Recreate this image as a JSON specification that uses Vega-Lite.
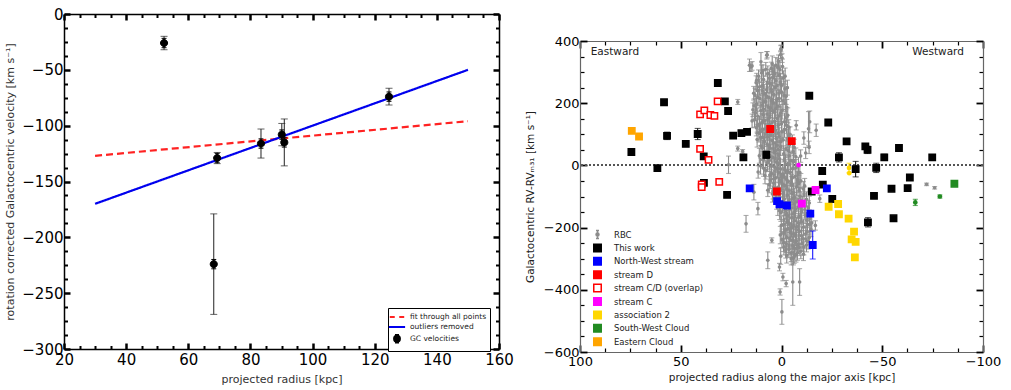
{
"$schema":"https://vega.github.io/schema/vega-lite/v6.json",
"padding":{"left":4,"top":7,"right":0,"bottom":0},
"spacing":11,
"config":{"view":{"stroke":null},"font":"DejaVu Sans"},
"resolve":{"scale":{"fill":"independent","stroke":"independent","shape":"independent","color":"independent","strokeDash":"independent"}},
"datasets":{
"gc":[
{"r":52.2,"v":-26,"e":6,"s":"GC velocities"},
{"r":69.3,"v":-129,"e":5,"s":"GC velocities"},
{"r":68.2,"v":-224,"e":45,"s":"GC velocities"},
{"r":83.4,"v":-116,"e":13,"s":"GC velocities"},
{"r":90.1,"v":-108,"e":10,"s":"GC velocities"},
{"r":90.9,"v":-115,"e":21,"s":"GC velocities"},
{"r":124.6,"v":-74,"e":7.5,"s":"GC velocities"}
],
"fits":[
{"r":30,"v":-127,"fit":"fit through all points"},
{"r":150,"v":-96,"fit":"fit through all points"},
{"r":30,"v":-170,"fit":"outliers removed"},
{"r":150,"v":-50,"fit":"outliers removed"}
],
"labels":[
{"x":94.7,"v":365,"t":"Eastward"},
{"x":-64.9,"v":365,"t":"Westward"}
],
"rv":[
{"x":0.2,"v":372,"e":15,"g":"RBC"},{"x":0.5,"v":356,"e":12,"g":"RBC"},{"x":-0.3,"v":345,"e":14,"g":"RBC"},{"x":7.3,"v":354,"e":12,"g":"RBC"},{"x":1.5,"v":335,"e":20,"g":"RBC"},{"x":7.1,"v":356,"e":10,"g":"RBC"},{"x":0.3,"v":375,"e":10,"g":"RBC"},{"x":10.2,"v":333,"e":30,"g":"RBC"},{"x":15.9,"v":322,"e":20,"g":"RBC"},{"x":15.2,"v":316,"e":14,"g":"RBC"},{"x":14.6,"v":320,"e":14,"g":"RBC"},
{"x":2.8,"v":322,"e":25,"g":"RBC"},{"x":5.1,"v":312,"e":20,"g":"RBC"},{"x":0.8,"v":308,"e":30,"g":"RBC"},{"x":9.2,"v":305,"e":18,"g":"RBC"},{"x":3.9,"v":300,"e":22,"g":"RBC"},{"x":-0.5,"v":318,"e":24,"g":"RBC"},
{"x":6.8,"v":295,"e":25,"g":"RBC"},{"x":1.2,"v":290,"e":30,"g":"RBC"},{"x":11.4,"v":287,"e":20,"g":"RBC"},{"x":4.4,"v":283,"e":28,"g":"RBC"},{"x":-0.9,"v":280,"e":24,"g":"RBC"},{"x":8.9,"v":276,"e":30,"g":"RBC"},{"x":2.7,"v":272,"e":26,"g":"RBC"},
{"x":12.6,"v":266,"e":22,"g":"RBC"},{"x":5.7,"v":262,"e":30,"g":"RBC"},{"x":0.1,"v":258,"e":28,"g":"RBC"},{"x":9.8,"v":255,"e":26,"g":"RBC"},{"x":3.2,"v":250,"e":30,"g":"RBC"},{"x":-1.7,"v":246,"e":25,"g":"RBC"},{"x":7.4,"v":243,"e":28,"g":"RBC"},{"x":11.9,"v":240,"e":24,"g":"RBC"},
{"x":4.8,"v":237,"e":30,"g":"RBC"},{"x":1.3,"v":233,"e":28,"g":"RBC"},{"x":8.6,"v":230,"e":30,"g":"RBC"},{"x":13.1,"v":226,"e":22,"g":"RBC"},{"x":-2.3,"v":222,"e":26,"g":"RBC"},{"x":6.2,"v":219,"e":30,"g":"RBC"},{"x":10.7,"v":215,"e":28,"g":"RBC"},{"x":2.5,"v":212,"e":30,"g":"RBC"},
{"x":-0.8,"v":208,"e":28,"g":"RBC"},{"x":7.9,"v":205,"e":30,"g":"RBC"},{"x":4.1,"v":201,"e":26,"g":"RBC"},{"x":12.4,"v":198,"e":24,"g":"RBC"},{"x":9.6,"v":194,"e":30,"g":"RBC"},{"x":1.9,"v":190,"e":28,"g":"RBC"},{"x":-2.6,"v":187,"e":25,"g":"RBC"},{"x":5.5,"v":184,"e":30,"g":"RBC"},
{"x":14.2,"v":179,"e":22,"g":"RBC"},{"x":10.3,"v":176,"e":28,"g":"RBC"},{"x":3.4,"v":172,"e":30,"g":"RBC"},{"x":0.4,"v":168,"e":28,"g":"RBC"},{"x":7.2,"v":165,"e":30,"g":"RBC"},{"x":-3.1,"v":161,"e":24,"g":"RBC"},{"x":11.8,"v":158,"e":26,"g":"RBC"},{"x":5.9,"v":154,"e":30,"g":"RBC"},{"x":2.1,"v":151,"e":28,"g":"RBC"},
{"x":13.4,"v":147,"e":24,"g":"RBC"},{"x":8.3,"v":144,"e":30,"g":"RBC"},{"x":-1.5,"v":140,"e":28,"g":"RBC"},{"x":4.7,"v":137,"e":30,"g":"RBC"},{"x":10.9,"v":133,"e":26,"g":"RBC"},{"x":1.6,"v":129,"e":30,"g":"RBC"},{"x":6.8,"v":126,"e":28,"g":"RBC"},{"x":-3.6,"v":123,"e":24,"g":"RBC"},{"x":12.5,"v":121,"e":26,"g":"RBC"},
{"x":9.4,"v":117,"e":30,"g":"RBC"},{"x":3.0,"v":114,"e":28,"g":"RBC"},{"x":-0.2,"v":110,"e":30,"g":"RBC"},{"x":7.6,"v":107,"e":26,"g":"RBC"},{"x":11.2,"v":103,"e":28,"g":"RBC"},{"x":-4.2,"v":100,"e":24,"g":"RBC"},{"x":5.3,"v":97,"e":30,"g":"RBC"},{"x":1.1,"v":93,"e":28,"g":"RBC"},
{"x":8.8,"v":89,"e":28,"g":"RBC"},{"x":-2.8,"v":86,"e":30,"g":"RBC"},{"x":12.1,"v":83,"e":24,"g":"RBC"},{"x":4.6,"v":80,"e":30,"g":"RBC"},{"x":0.3,"v":76,"e":28,"g":"RBC"},{"x":-5.4,"v":72,"e":26,"g":"RBC"},{"x":7.1,"v":69,"e":30,"g":"RBC"},{"x":2.2,"v":65,"e":28,"g":"RBC"},{"x":10.2,"v":62,"e":26,"g":"RBC"},
{"x":-6.3,"v":58,"e":26,"g":"RBC"},{"x":5.8,"v":55,"e":30,"g":"RBC"},{"x":1.7,"v":51,"e":28,"g":"RBC"},{"x":-3.3,"v":48,"e":30,"g":"RBC"},{"x":8.5,"v":44,"e":28,"g":"RBC"},{"x":3.6,"v":41,"e":30,"g":"RBC"},{"x":-1.1,"v":37,"e":26,"g":"RBC"},{"x":6.4,"v":34,"e":28,"g":"RBC"},{"x":11.0,"v":31,"e":24,"g":"RBC"},
{"x":-7.1,"v":28,"e":28,"g":"RBC"},{"x":4.2,"v":25,"e":30,"g":"RBC"},{"x":0.9,"v":21,"e":30,"g":"RBC"},{"x":9.3,"v":18,"e":26,"g":"RBC"},{"x":-4.6,"v":15,"e":28,"g":"RBC"},{"x":2.6,"v":11,"e":30,"g":"RBC"},{"x":6.9,"v":8,"e":28,"g":"RBC"},{"x":-2.0,"v":4,"e":30,"g":"RBC"},{"x":-8.4,"v":2,"e":24,"g":"RBC"},
{"x":10.4,"v":-2,"e":26,"g":"RBC"},{"x":3.4,"v":-5,"e":30,"g":"RBC"},{"x":-5.6,"v":-9,"e":28,"g":"RBC"},{"x":0.5,"v":-12,"e":30,"g":"RBC"},{"x":7.8,"v":-16,"e":28,"g":"RBC"},{"x":-3.0,"v":-19,"e":30,"g":"RBC"},{"x":-9.1,"v":-23,"e":24,"g":"RBC"},{"x":4.9,"v":-26,"e":28,"g":"RBC"},{"x":-0.6,"v":-29,"e":30,"g":"RBC"},
{"x":8.2,"v":-33,"e":26,"g":"RBC"},{"x":-6.8,"v":-36,"e":28,"g":"RBC"},{"x":2.9,"v":-40,"e":30,"g":"RBC"},{"x":-2.4,"v":-43,"e":30,"g":"RBC"},{"x":5.6,"v":-47,"e":28,"g":"RBC"},{"x":-9.6,"v":-50,"e":24,"g":"RBC"},{"x":0.0,"v":-54,"e":30,"g":"RBC"},{"x":-4.9,"v":-57,"e":28,"g":"RBC"},
{"x":6.1,"v":-62,"e":26,"g":"RBC"},{"x":-1.7,"v":-66,"e":30,"g":"RBC"},{"x":-7.5,"v":-69,"e":28,"g":"RBC"},{"x":3.1,"v":-73,"e":30,"g":"RBC"},{"x":-10.8,"v":-76,"e":24,"g":"RBC"},{"x":-3.8,"v":-80,"e":30,"g":"RBC"},{"x":1.2,"v":-84,"e":28,"g":"RBC"},{"x":-6.0,"v":-87,"e":30,"g":"RBC"},
{"x":4.5,"v":-92,"e":26,"g":"RBC"},{"x":-2.9,"v":-95,"e":30,"g":"RBC"},{"x":-9.2,"v":-99,"e":28,"g":"RBC"},{"x":0.7,"v":-102,"e":30,"g":"RBC"},{"x":-5.3,"v":-106,"e":30,"g":"RBC"},{"x":-12.4,"v":-109,"e":24,"g":"RBC"},{"x":2.4,"v":-113,"e":28,"g":"RBC"},{"x":-7.7,"v":-117,"e":30,"g":"RBC"},
{"x":-0.5,"v":-122,"e":30,"g":"RBC"},{"x":-10.5,"v":-126,"e":26,"g":"RBC"},{"x":-4.0,"v":-129,"e":30,"g":"RBC"},{"x":1.8,"v":-133,"e":28,"g":"RBC"},{"x":-13.3,"v":-137,"e":24,"g":"RBC"},{"x":-7.0,"v":-140,"e":30,"g":"RBC"},{"x":-2.1,"v":-144,"e":28,"g":"RBC"},{"x":-9.9,"v":-148,"e":30,"g":"RBC"},
{"x":0.3,"v":-152,"e":28,"g":"RBC"},{"x":-5.8,"v":-156,"e":30,"g":"RBC"},{"x":-11.7,"v":-160,"e":26,"g":"RBC"},{"x":-3.3,"v":-163,"e":30,"g":"RBC"},{"x":-8.6,"v":-167,"e":28,"g":"RBC"},{"x":-14.1,"v":-171,"e":24,"g":"RBC"},{"x":-1.2,"v":-175,"e":30,"g":"RBC"},{"x":-6.6,"v":-178,"e":30,"g":"RBC"},
{"x":-10.1,"v":-182,"e":28,"g":"RBC"},{"x":-3.9,"v":-186,"e":30,"g":"RBC"},{"x":-12.9,"v":-190,"e":26,"g":"RBC"},{"x":0.1,"v":-193,"e":28,"g":"RBC"},{"x":-7.5,"v":-197,"e":30,"g":"RBC"},{"x":-5.0,"v":-201,"e":30,"g":"RBC"},{"x":-14.6,"v":-205,"e":24,"g":"RBC"},{"x":-1.9,"v":-208,"e":28,"g":"RBC"},
{"x":-9.0,"v":-212,"e":30,"g":"RBC"},{"x":-4.4,"v":-216,"e":28,"g":"RBC"},{"x":-12.0,"v":-220,"e":26,"g":"RBC"},{"x":0.6,"v":-224,"e":28,"g":"RBC"},{"x":-6.9,"v":-228,"e":30,"g":"RBC"},{"x":-2.6,"v":-232,"e":30,"g":"RBC"},{"x":-10.8,"v":-236,"e":26,"g":"RBC"},
{"x":-5.3,"v":-241,"e":28,"g":"RBC"},{"x":-13.2,"v":-245,"e":24,"g":"RBC"},{"x":-1.0,"v":-249,"e":28,"g":"RBC"},{"x":-8.3,"v":-253,"e":30,"g":"RBC"},{"x":-3.7,"v":-258,"e":28,"g":"RBC"},{"x":-11.1,"v":-262,"e":26,"g":"RBC"},{"x":-6.4,"v":-266,"e":28,"g":"RBC"},
{"x":-2.1,"v":-272,"e":26,"g":"RBC"},{"x":-9.6,"v":-276,"e":24,"g":"RBC"},{"x":-4.8,"v":-281,"e":28,"g":"RBC"},{"x":-7.2,"v":-287,"e":24,"g":"RBC"},{"x":0.4,"v":-292,"e":26,"g":"RBC"},{"x":-5.9,"v":-298,"e":22,"g":"RBC"},
{"x":4.6,"v":327,"e":25,"g":"RBC"},{"x":1.9,"v":315,"e":28,"g":"RBC"},{"x":7.8,"v":309,"e":22,"g":"RBC"},
{"x":9.9,"v":297,"e":26,"g":"RBC"},{"x":3.5,"v":293,"e":30,"g":"RBC"},{"x":-1.8,"v":287,"e":26,"g":"RBC"},{"x":6.0,"v":280,"e":28,"g":"RBC"},{"x":12.3,"v":274,"e":22,"g":"RBC"},{"x":0.6,"v":268,"e":28,"g":"RBC"},
{"x":7.0,"v":264,"e":30,"g":"RBC"},{"x":2.2,"v":256,"e":30,"g":"RBC"},{"x":11.0,"v":252,"e":26,"g":"RBC"},{"x":-2.9,"v":250,"e":24,"g":"RBC"},{"x":5.1,"v":245,"e":30,"g":"RBC"},{"x":9.3,"v":239,"e":28,"g":"RBC"},{"x":0.0,"v":235,"e":28,"g":"RBC"},{"x":13.8,"v":232,"e":22,"g":"RBC"},{"x":3.9,"v":228,"e":30,"g":"RBC"},{"x":-1.3,"v":225,"e":28,"g":"RBC"},
{"x":7.3,"v":222,"e":30,"g":"RBC"},{"x":11.6,"v":218,"e":26,"g":"RBC"},{"x":1.1,"v":215,"e":28,"g":"RBC"},{"x":4.9,"v":209,"e":30,"g":"RBC"},{"x":9.1,"v":203,"e":28,"g":"RBC"},{"x":-1.9,"v":199,"e":26,"g":"RBC"},{"x":13.6,"v":192,"e":22,"g":"RBC"},{"x":6.6,"v":188,"e":30,"g":"RBC"},{"x":2.9,"v":182,"e":30,"g":"RBC"},
{"x":8.9,"v":181,"e":28,"g":"RBC"},{"x":-0.3,"v":177,"e":28,"g":"RBC"},{"x":4.4,"v":174,"e":30,"g":"RBC"},{"x":12.9,"v":168,"e":24,"g":"RBC"},{"x":9.0,"v":162,"e":28,"g":"RBC"},{"x":1.2,"v":159,"e":30,"g":"RBC"},{"x":-2.2,"v":153,"e":26,"g":"RBC"},{"x":6.7,"v":148,"e":30,"g":"RBC"},{"x":14.6,"v":143,"e":22,"g":"RBC"},{"x":3.3,"v":141,"e":30,"g":"RBC"},
{"x":9.7,"v":139,"e":28,"g":"RBC"},{"x":0.0,"v":134,"e":28,"g":"RBC"},{"x":5.8,"v":131,"e":30,"g":"RBC"},{"x":-2.5,"v":129,"e":26,"g":"RBC"},{"x":12.0,"v":127,"e":24,"g":"RBC"},{"x":3.6,"v":122,"e":30,"g":"RBC"},{"x":8.1,"v":117,"e":28,"g":"RBC"},{"x":-1.5,"v":116,"e":26,"g":"RBC"},{"x":6.1,"v":111,"e":30,"g":"RBC"},{"x":10.5,"v":108,"e":26,"g":"RBC"},{"x":1.7,"v":104,"e":30,"g":"RBC"},
{"x":-3.5,"v":95,"e":28,"g":"RBC"},{"x":6.8,"v":92,"e":30,"g":"RBC"},{"x":10.3,"v":90,"e":26,"g":"RBC"},{"x":2.6,"v":86,"e":30,"g":"RBC"},{"x":-0.8,"v":82,"e":28,"g":"RBC"},{"x":8.4,"v":77,"e":28,"g":"RBC"},{"x":4.0,"v":72,"e":30,"g":"RBC"},{"x":-4.0,"v":66,"e":26,"g":"RBC"},{"x":5.9,"v":63,"e":30,"g":"RBC"},
{"x":0.4,"v":60,"e":28,"g":"RBC"},{"x":9.5,"v":56,"e":26,"g":"RBC"},{"x":-2.2,"v":53,"e":28,"g":"RBC"},{"x":3.0,"v":47,"e":30,"g":"RBC"},{"x":-5.8,"v":44,"e":26,"g":"RBC"},{"x":7.2,"v":39,"e":28,"g":"RBC"},{"x":1.2,"v":33,"e":30,"g":"RBC"},{"x":-3.8,"v":31,"e":28,"g":"RBC"},{"x":4.8,"v":27,"e":30,"g":"RBC"},
{"x":-1.4,"v":19,"e":30,"g":"RBC"},{"x":6.0,"v":16,"e":28,"g":"RBC"},{"x":-6.0,"v":12,"e":26,"g":"RBC"},{"x":1.9,"v":8,"e":30,"g":"RBC"},{"x":-3.6,"v":2,"e":28,"g":"RBC"},{"x":5.0,"v":-3,"e":30,"g":"RBC"},{"x":-7.2,"v":-7,"e":26,"g":"RBC"},{"x":2.0,"v":-10,"e":30,"g":"RBC"},{"x":-1.6,"v":-14,"e":28,"g":"RBC"},{"x":8.9,"v":-9,"e":26,"g":"RBC"},
{"x":-4.4,"v":-22,"e":30,"g":"RBC"},{"x":1.6,"v":-24,"e":30,"g":"RBC"},{"x":-8.2,"v":-28,"e":26,"g":"RBC"},{"x":5.8,"v":-31,"e":28,"g":"RBC"},{"x":-1.2,"v":-36,"e":30,"g":"RBC"},{"x":-5.4,"v":-40,"e":28,"g":"RBC"},{"x":3.9,"v":-44,"e":30,"g":"RBC"},{"x":-7.9,"v":-46,"e":26,"g":"RBC"},{"x":0.9,"v":-48,"e":30,"g":"RBC"},{"x":-3.1,"v":-53,"e":28,"g":"RBC"},
{"x":-8.6,"v":-58,"e":26,"g":"RBC"},{"x":3.8,"v":-57,"e":28,"g":"RBC"},{"x":-0.4,"v":-61,"e":30,"g":"RBC"},{"x":-5.0,"v":-64,"e":28,"g":"RBC"},{"x":-11.5,"v":-66,"e":24,"g":"RBC"},{"x":1.5,"v":-70,"e":30,"g":"RBC"},{"x":-2.6,"v":-76,"e":30,"g":"RBC"},{"x":-8.7,"v":-80,"e":28,"g":"RBC"},{"x":4.2,"v":-82,"e":26,"g":"RBC"},{"x":-5.1,"v":-90,"e":30,"g":"RBC"},{"x":-0.9,"v":-89,"e":28,"g":"RBC"},
{"x":-11.2,"v":-95,"e":26,"g":"RBC"},{"x":2.8,"v":-97,"e":28,"g":"RBC"},{"x":-6.6,"v":-103,"e":30,"g":"RBC"},{"x":-1.4,"v":-108,"e":30,"g":"RBC"},{"x":-9.7,"v":-113,"e":28,"g":"RBC"},{"x":-3.7,"v":-115,"e":30,"g":"RBC"},{"x":0.9,"v":-119,"e":28,"g":"RBC"},{"x":-13.8,"v":-121,"e":22,"g":"RBC"},{"x":-6.3,"v":-124,"e":30,"g":"RBC"},{"x":-1.6,"v":-130,"e":30,"g":"RBC"},{"x":-8.4,"v":-134,"e":28,"g":"RBC"},
{"x":-4.8,"v":-138,"e":30,"g":"RBC"},{"x":-11.6,"v":-143,"e":26,"g":"RBC"},{"x":0.9,"v":-146,"e":28,"g":"RBC"},{"x":-6.5,"v":-150,"e":30,"g":"RBC"},{"x":-13.0,"v":-154,"e":24,"g":"RBC"},{"x":-2.5,"v":-158,"e":30,"g":"RBC"},{"x":-9.5,"v":-161,"e":28,"g":"RBC"},{"x":-5.1,"v":-168,"e":30,"g":"RBC"},{"x":-12.6,"v":-176,"e":24,"g":"RBC"},{"x":-2.9,"v":-180,"e":30,"g":"RBC"},
{"x":-8.3,"v":-185,"e":30,"g":"RBC"},{"x":-14.0,"v":-189,"e":24,"g":"RBC"},{"x":-1.1,"v":-189,"e":28,"g":"RBC"},{"x":-5.9,"v":-194,"e":30,"g":"RBC"},{"x":-10.9,"v":-199,"e":26,"g":"RBC"},{"x":-3.2,"v":-203,"e":30,"g":"RBC"},{"x":-8.4,"v":-207,"e":28,"g":"RBC"},{"x":-12.6,"v":-213,"e":26,"g":"RBC"},{"x":-1.2,"v":-217,"e":28,"g":"RBC"},{"x":-6.0,"v":-220,"e":30,"g":"RBC"},
{"x":-9.9,"v":-226,"e":28,"g":"RBC"},{"x":-4.1,"v":-236,"e":30,"g":"RBC"},{"x":-13.8,"v":-232,"e":22,"g":"RBC"},{"x":-0.2,"v":-238,"e":26,"g":"RBC"},{"x":-7.4,"v":-244,"e":28,"g":"RBC"},{"x":-2.4,"v":-252,"e":28,"g":"RBC"},{"x":-10.2,"v":-250,"e":26,"g":"RBC"},{"x":-5.6,"v":-258,"e":30,"g":"RBC"},{"x":-12.4,"v":-256,"e":22,"g":"RBC"},{"x":-8.8,"v":-264,"e":26,"g":"RBC"},{"x":-1.2,"v":-262,"e":26,"g":"RBC"},{"x":-3.7,"v":-270,"e":26,"g":"RBC"},{"x":-7.9,"v":-281,"e":24,"g":"RBC"},{"x":-10.9,"v":-286,"e":20,"g":"RBC"},{"x":-2.6,"v":-290,"e":24,"g":"RBC"},{"x":-6.3,"v":-293,"e":22,"g":"RBC"},
{"x":21.7,"v":204,"e":8,"g":"RBC"},{"x":21.7,"v":54,"e":8,"g":"RBC"},{"x":19.3,"v":45,"e":6,"g":"RBC"},{"x":26.3,"v":2,"e":28,"g":"RBC"},{"x":-7.3,"v":129,"e":15,"g":"RBC"},{"x":-11.1,"v":88,"e":20,"g":"RBC"},{"x":-13.4,"v":118,"e":55,"g":"RBC"},{"x":-17.2,"v":113,"e":20,"g":"RBC"},{"x":-13.7,"v":58,"e":20,"g":"RBC"},{"x":-14.0,"v":140,"e":35,"g":"RBC"},{"x":-9.5,"v":30,"e":20,"g":"RBC"},{"x":-12.0,"v":40,"e":18,"g":"RBC"},
{"x":17.6,"v":-188,"e":27,"g":"RBC"},{"x":11.7,"v":-139,"e":20,"g":"RBC"},{"x":4.8,"v":-241,"e":8,"g":"RBC"},{"x":6.8,"v":-305,"e":27,"g":"RBC"},{"x":1.0,"v":-327,"e":12,"g":"RBC"},{"x":-0.7,"v":-359,"e":12,"g":"RBC"},{"x":-2.3,"v":-380,"e":10,"g":"RBC"},{"x":0.7,"v":-407,"e":10,"g":"RBC"},{"x":-0.2,"v":-471,"e":40,"g":"RBC"},{"x":-5.6,"v":-375,"e":75,"g":"RBC"},{"x":-9.0,"v":-375,"e":43,"g":"RBC"},
{"x":6.8,"v":-80,"e":20,"g":"RBC"},{"x":13.7,"v":-86,"e":25,"g":"RBC"},{"x":-4.8,"v":-300,"e":20,"g":"RBC"},{"x":-19.0,"v":-107,"e":12,"g":"RBC"},{"x":-15.0,"v":-185,"e":25,"g":"RBC"},{"x":-16.8,"v":-193,"e":15,"g":"RBC"},{"x":11.6,"v":-21,"e":20,"g":"RBC"},{"x":-72.0,"v":-61,"e":4,"g":"RBC"},{"x":-76.0,"v":-72,"e":4,"g":"RBC"},
{"x":31.6,"v":265,"e":0,"g":"This work"},{"x":58.3,"v":203,"e":0,"g":"This work"},{"x":28.1,"v":206,"e":0,"g":"This work"},{"x":26.5,"v":175,"e":0,"g":"This work"},{"x":56.8,"v":95,"e":12,"g":"This work"},{"x":41.6,"v":101,"e":18,"g":"This work"},{"x":47.5,"v":69,"e":0,"g":"This work"},{"x":24.0,"v":96,"e":0,"g":"This work"},{"x":19.9,"v":104,"e":0,"g":"This work"},{"x":17.1,"v":108,"e":0,"g":"This work"},
{"x":74.5,"v":43,"e":0,"g":"This work"},{"x":38.6,"v":29,"e":0,"g":"This work"},{"x":18.9,"v":26,"e":0,"g":"This work"},{"x":7.5,"v":34,"e":12,"g":"This work"},{"x":61.6,"v":-9,"e":0,"g":"This work"},{"x":38.5,"v":-56,"e":0,"g":"This work"},{"x":27.0,"v":-95,"e":0,"g":"This work"},{"x":-13.8,"v":224,"e":0,"g":"This work"},{"x":-23.2,"v":138,"e":0,"g":"This work"},{"x":-32.3,"v":77,"e":0,"g":"This work"},
{"x":-28.5,"v":26,"e":15,"g":"This work"},{"x":-41.6,"v":61,"e":0,"g":"This work"},{"x":-42.7,"v":50,"e":12,"g":"This work"},{"x":-51.0,"v":26,"e":10,"g":"This work"},{"x":-58.3,"v":56,"e":0,"g":"This work"},{"x":-74.8,"v":26,"e":0,"g":"This work"},{"x":-20.2,"v":-18,"e":0,"g":"This work"},{"x":-36.8,"v":-12,"e":25,"g":"This work"},{"x":-47.0,"v":-8,"e":15,"g":"This work"},{"x":-20.5,"v":-62,"e":0,"g":"This work"},
{"x":-15.0,"v":-84,"e":0,"g":"This work"},{"x":-25.2,"v":-108,"e":10,"g":"This work"},{"x":-45.9,"v":-98,"e":0,"g":"This work"},{"x":-54.6,"v":-75,"e":0,"g":"This work"},{"x":-63.7,"v":-39,"e":0,"g":"This work"},{"x":-62.6,"v":-73,"e":0,"g":"This work"},{"x":-42.9,"v":-183,"e":15,"g":"This work"},{"x":-55.6,"v":-170,"e":0,"g":"This work"},
{"x":15.8,"v":-74,"e":0,"g":"North-West stream"},{"x":2.2,"v":-115,"e":0,"g":"North-West stream"},{"x":1.0,"v":-125,"e":0,"g":"North-West stream"},{"x":-2.7,"v":-129,"e":0,"g":"North-West stream"},{"x":-14.3,"v":-155,"e":0,"g":"North-West stream"},{"x":-15.5,"v":-256,"e":45,"g":"North-West stream"},{"x":-22.5,"v":-74,"e":0,"g":"North-West stream"},
{"x":5.6,"v":117,"e":0,"g":"stream D"},{"x":-5.1,"v":78,"e":0,"g":"stream D"},{"x":2.3,"v":-84,"e":0,"g":"stream D"},
{"x":31.7,"v":206,"e":0,"g":"stream C/D (overlap)"},{"x":40.4,"v":164,"e":0,"g":"stream C/D (overlap)"},{"x":38.3,"v":177,"e":0,"g":"stream C/D (overlap)"},{"x":35.3,"v":162,"e":0,"g":"stream C/D (overlap)"},{"x":33.3,"v":159,"e":0,"g":"stream C/D (overlap)"},{"x":40.4,"v":53,"e":0,"g":"stream C/D (overlap)"},{"x":36.2,"v":18,"e":0,"g":"stream C/D (overlap)"},{"x":39.6,"v":-61,"e":0,"g":"stream C/D (overlap)"},{"x":39.6,"v":-70,"e":0,"g":"stream C/D (overlap)"},{"x":30.9,"v":-53,"e":0,"g":"stream C/D (overlap)"},
{"x":-10.1,"v":-123,"e":0,"g":"stream C"},{"x":-16.9,"v":-79,"e":0,"g":"stream C"},{"x":-8.5,"v":1,"e":0,"g":"stream C","k":"dot"},
{"x":-23.4,"v":-133,"e":0,"g":"association 2"},{"x":-28.1,"v":-124,"e":0,"g":"association 2"},{"x":-28.5,"v":-157,"e":0,"g":"association 2"},{"x":-33.3,"v":-171,"e":0,"g":"association 2"},{"x":-36.0,"v":-213,"e":0,"g":"association 2"},{"x":-34.8,"v":-238,"e":0,"g":"association 2"},{"x":-36.8,"v":-246,"e":0,"g":"association 2"},{"x":-36.4,"v":-296,"e":0,"g":"association 2"},{"x":-33.5,"v":-8,"e":15,"g":"association 2","k":"dot"},{"x":-33.6,"v":-25,"e":0,"g":"association 2","k":"dot"},
{"x":-85.8,"v":-59,"e":0,"g":"South-West Cloud"},{"x":-66.4,"v":-119,"e":10,"g":"South-West Cloud","k":"dot"},{"x":-78.6,"v":-100,"e":5,"g":"South-West Cloud","k":"dot"},
{"x":74.3,"v":111,"e":0,"g":"Eastern Cloud"},{"x":70.7,"v":93,"e":0,"g":"Eastern Cloud"}
]
},
"hconcat":[
{
"width":435,"height":335,
"resolve":{"axis":{"x":"independent","y":"independent"}},
"layer":[
{"data":{"name":"fits"},"mark":{"type":"line","strokeWidth":2.2},
"encoding":{
"x":{"field":"r","type":"quantitative","scale":{"domain":[20,160],"nice":false,"zero":false},
"axis":{"orient":"bottom","values":[20,25,30,35,40,45,50,55,60,65,70,75,80,85,90,95,100,105,110,115,120,125,130,135,140,145,150,155,160],"labelExpr":"datum.value % 20 === 0 ? datum.label : ''","tickSize":{"condition":{"test":"datum.value % 20 === 0","value":-6},"value":-3.5},"tickWidth":{"condition":{"test":"datum.value % 20 === 0","value":2.5},"value":2},"tickColor":"black","domainColor":"black","domainWidth":1.5,"labelFontSize":15,"labelColor":"black","labelPadding":9,"labelFlush":false,"labelOverlap":false,"grid":false,"title":"projected radius [kpc]","titleFontSize":11,"titleFontWeight":"normal","titleColor":"#333","titlePadding":4}},
"y":{"field":"v","type":"quantitative","scale":{"domain":[-300,0],"nice":false,"zero":false},
"axis":{"orient":"left","values":[-300,-287.5,-275,-262.5,-250,-237.5,-225,-212.5,-200,-187.5,-175,-162.5,-150,-137.5,-125,-112.5,-100,-87.5,-75,-62.5,-50,-37.5,-25,-12.5,0],"labelExpr":"datum.value % 50 === 0 ? datum.label : ''","tickSize":{"condition":{"test":"datum.value % 50 === 0","value":-6},"value":-3.5},"tickWidth":{"condition":{"test":"datum.value % 50 === 0","value":2.5},"value":2},"tickColor":"black","domainColor":"black","domainWidth":1.5,"labelFontSize":15,"labelColor":"black","labelPadding":7,"labelFlush":false,"labelOverlap":false,"grid":false,"title":"rotation corrected Galactocentric velocity [km s⁻¹]","titleFontSize":11,"titleFontWeight":"normal","titleColor":"#333","titlePadding":6}},
"color":{"field":"fit","type":"nominal","scale":{"domain":["fit through all points","outliers removed"],"range":["#ff2222","#0000ee"]},"legend":null},
"strokeDash":{"field":"fit","type":"nominal","scale":{"domain":["fit through all points","outliers removed"],"range":[[7,4],[1,0]]},"legend":null}
}},
{"data":{"name":"gc"},"mark":{"type":"errorbar","ticks":true,"size":7,"thickness":1,"color":"#222"},
"encoding":{
"x":{"field":"r","type":"quantitative","scale":{"domain":[20,160],"nice":false,"zero":false},"axis":null},
"y":{"field":"v","type":"quantitative","scale":{"domain":[-300,0],"nice":false,"zero":false},"axis":null},
"yError":{"field":"e"}
}},
{"data":{"name":"gc"},"mark":{"type":"point","filled":true,"size":121,"strokeWidth":1,"opacity":1},
"encoding":{
"x":{"field":"r","type":"quantitative","scale":{"domain":[20,160],"nice":false,"zero":false},
"axis":{"orient":"top","values":[20,25,30,35,40,45,50,55,60,65,70,75,80,85,90,95,100,105,110,115,120,125,130,135,140,145,150,155,160],"labels":false,"tickSize":{"condition":{"test":"datum.value % 20 === 0","value":-6},"value":-3.5},"tickWidth":{"condition":{"test":"datum.value % 20 === 0","value":2.5},"value":2},"tickColor":"black","domainColor":"black","domainWidth":1.5,"grid":false,"title":null}},
"y":{"field":"v","type":"quantitative","scale":{"domain":[-300,0],"nice":false,"zero":false},
"axis":{"orient":"right","values":[-300,-287.5,-275,-262.5,-250,-237.5,-225,-212.5,-200,-187.5,-175,-162.5,-150,-137.5,-125,-112.5,-100,-87.5,-75,-62.5,-50,-37.5,-25,-12.5,0],"labels":false,"tickSize":{"condition":{"test":"datum.value % 50 === 0","value":-6},"value":-3.5},"tickWidth":{"condition":{"test":"datum.value % 50 === 0","value":2.5},"value":2},"tickColor":"black","domainColor":"black","domainWidth":1.5,"grid":false,"title":null}},
"fill":{"field":"s","type":"nominal","scale":{"domain":["fit through all points","outliers removed","GC velocities"],"range":["#ff2222","#0000ee","black"]},
"legend":{"orient":"none","legendX":324,"legendY":294,"title":null,"symbolSize":81,"symbolStrokeWidth":2,"labelFontSize":7.5,"labelColor":"#222","strokeColor":"black","fillColor":"white","padding":3.5,"rowPadding":-1.2,"labelOffset":7.5}},
"stroke":{"field":"s","type":"nominal","scale":{"domain":["fit through all points","outliers removed","GC velocities"],"range":["#ff2222","#0000ee","black"]},
"legend":{"orient":"none","legendX":324,"legendY":294,"title":null,"symbolSize":81,"symbolStrokeWidth":2,"labelFontSize":7.5,"labelColor":"#222","strokeColor":"black","fillColor":"white","padding":3.5,"rowPadding":-1.2,"labelOffset":7.5}},
"shape":{"field":"s","type":"nominal","scale":{"domain":["fit through all points","outliers removed","GC velocities"],"range":["M-1.6,0H-0.5M0.5,0H1.6","M-1.8,0H1.8","M-0.65,0A0.65,0.65 0 1,0 0.65,0A0.65,0.65 0 1,0 -0.65,0ZM0,-0.85V0.85M-0.45,-0.85H0.45M-0.45,0.85H0.45"]},
"legend":{"orient":"none","legendX":324,"legendY":294,"title":null,"symbolSize":81,"symbolStrokeWidth":2,"labelFontSize":7.5,"labelColor":"#222","strokeColor":"black","fillColor":"white","padding":3.5,"rowPadding":-1.2,"labelOffset":7.5}}
}}
]
},
{
"spacing":19,
"resolve":{"scale":{"fill":"independent","stroke":"independent","shape":"independent","color":"independent"}},
"vconcat":[
{"width":403,"height":2,"data":{"values":[]},"mark":"point"},
{
"width":403,"height":311,
"data":{"name":"rv"},
"resolve":{"axis":{"x":"independent","y":"independent"}},
"layer":[
{"mark":{"type":"rule","strokeDash":[2,2],"color":"#555","strokeWidth":1},
"encoding":{"y":{"datum":0,"type":"quantitative","scale":{"domain":[-600,400],"nice":false,"zero":false},"axis":null}}},
{"transform":[{"filter":"(datum.g === 'RBC' || datum.k === 'dot') && datum.e > 0"}],
"mark":{"type":"errorbar","ticks":true,"size":5,"thickness":1.1},
"encoding":{
"x":{"field":"x","type":"quantitative","scale":{"domain":[100,-100],"nice":false,"zero":false},"axis":null},
"y":{"field":"v","type":"quantitative","scale":{"domain":[-600,400],"nice":false,"zero":false},"axis":null},
"yError":{"field":"e"},
"color":{"field":"g","type":"nominal","scale":{"domain":["Eastern Cloud","South-West Cloud","association 2","stream C","stream C/D (overlap)","stream D","North-West stream","This work","RBC"],"range":["#ffa500","#228b22","#ffd700","#ff00ff","#ff0000","#ff0000","#0000ff","black","#8c8c8c"]},"legend":null}
}},
{"transform":[{"filter":"datum.g === 'RBC' || datum.k === 'dot'"}],
"mark":{"type":"point","filled":true,"opacity":1,"shape":"circle"},
"encoding":{
"x":{"field":"x","type":"quantitative","scale":{"domain":[100,-100],"nice":false,"zero":false},
"axis":{"orient":"bottom","values":[-100,-87.5,-75,-62.5,-50,-37.5,-25,-12.5,0,12.5,25,37.5,50,62.5,75,87.5,100],"labelExpr":"datum.value % 50 === 0 ? datum.label : ''","tickSize":{"condition":{"test":"datum.value % 50 === 0","value":-7},"value":-4},"tickWidth":{"condition":{"test":"datum.value % 50 === 0","value":1.8},"value":1.2},"tickColor":"black","domainColor":"#666","domainWidth":1.2,"labelFontSize":13,"labelColor":"black","labelPadding":10,"labelFlush":false,"labelOverlap":false,"grid":false,"title":"projected radius along the major axis [kpc]","titleFontSize":10.5,"titleFontWeight":"normal","titleColor":"#222","titlePadding":1}},
"y":{"field":"v","type":"quantitative","scale":{"domain":[-600,400],"nice":false,"zero":false},
"axis":{"orient":"left","values":[-600,-550,-500,-450,-400,-350,-300,-250,-200,-150,-100,-50,0,50,100,150,200,250,300,350,400],"labelExpr":"datum.value % 200 === 0 ? datum.label : ''","tickSize":{"condition":{"test":"datum.value % 200 === 0","value":-7},"value":-4},"tickWidth":{"condition":{"test":"datum.value % 200 === 0","value":1.8},"value":1.2},"tickColor":"black","domainColor":"#666","domainWidth":1.2,"labelFontSize":13,"labelColor":"black","labelPadding":8,"labelFlush":false,"labelOverlap":false,"grid":false,"title":"Galactocentric RV-RVₘ₃₁ [km s⁻¹]","titleFontSize":10.5,"titleFontWeight":"normal","titleColor":"#222","titlePadding":8}},
"fill":{"field":"g","type":"nominal","scale":{"domain":["RBC","This work","North-West stream","stream D","stream C/D (overlap)","stream C","association 2","South-West Cloud","Eastern Cloud"],"range":["#8c8c8c","black","#0000ff","#ff0000","white","#ff00ff","#ffd700","#228b22","#ffa500"]},
"legend":{"orient":"none","legendX":13,"legendY":189,"title":null,"symbolSize":56,"symbolStrokeWidth":1.5,"labelFontSize":8.5,"labelColor":"#222","rowPadding":-1.6,"labelOffset":12,"padding":0}},
"size":{"condition":{"test":"datum.k === 'dot'","value":22},"value":13}
}},
{"transform":[{"filter":"datum.g !== 'RBC' && datum.k !== 'dot' && datum.e > 0"}],
"mark":{"type":"errorbar","ticks":true,"size":6,"thickness":1},
"encoding":{
"x":{"field":"x","type":"quantitative","scale":{"domain":[100,-100],"nice":false,"zero":false},"axis":null},
"y":{"field":"v","type":"quantitative","scale":{"domain":[-600,400],"nice":false,"zero":false},"axis":null},
"yError":{"field":"e"},
"color":{"field":"g","type":"nominal","scale":{"domain":["Eastern Cloud","South-West Cloud","association 2","stream C","stream C/D (overlap)","stream D","North-West stream","This work","RBC"],"range":["#ffa500","#228b22","#ffd700","#ff00ff","#ff0000","#ff0000","#0000ff","black","#8c8c8c"]},"legend":null}
}},
{"transform":[{"filter":"datum.g !== 'RBC' && datum.k !== 'dot'"}],
"mark":{"type":"point","filled":true,"opacity":1,"size":40,"strokeWidth":1.5},
"encoding":{
"x":{"field":"x","type":"quantitative","scale":{"domain":[100,-100],"nice":false,"zero":false},
"axis":{"orient":"top","values":[-100,-87.5,-75,-62.5,-50,-37.5,-25,-12.5,0,12.5,25,37.5,50,62.5,75,87.5,100],"labels":false,"tickSize":{"condition":{"test":"datum.value % 50 === 0","value":-7},"value":-4},"tickWidth":{"condition":{"test":"datum.value % 50 === 0","value":1.8},"value":1.2},"tickColor":"black","domainColor":"#666","domainWidth":1.2,"grid":false,"title":null}},
"y":{"field":"v","type":"quantitative","scale":{"domain":[-600,400],"nice":false,"zero":false},
"axis":{"orient":"right","values":[-600,-550,-500,-450,-400,-350,-300,-250,-200,-150,-100,-50,0,50,100,150,200,250,300,350,400],"labels":false,"tickSize":{"condition":{"test":"datum.value % 200 === 0","value":-7},"value":-4},"tickWidth":{"condition":{"test":"datum.value % 200 === 0","value":1.8},"value":1.2},"tickColor":"black","domainColor":"#666","domainWidth":1.2,"grid":false,"title":null}},
"fill":{"field":"g","type":"nominal","scale":{"domain":["RBC","This work","North-West stream","stream D","stream C/D (overlap)","stream C","association 2","South-West Cloud","Eastern Cloud"],"range":["#8c8c8c","black","#0000ff","#ff0000","white","#ff00ff","#ffd700","#228b22","#ffa500"]},
"legend":{"orient":"none","legendX":13,"legendY":189,"title":null,"symbolSize":56,"symbolStrokeWidth":1.5,"labelFontSize":8.5,"labelColor":"#222","rowPadding":-1.6,"labelOffset":12,"padding":0}},
"stroke":{"field":"g","type":"nominal","scale":{"domain":["RBC","This work","North-West stream","stream D","stream C/D (overlap)","stream C","association 2","South-West Cloud","Eastern Cloud"],"range":["#8c8c8c","black","#0000ff","#ff0000","#ff0000","#ff00ff","#ffd700","#228b22","#ffa500"]},
"legend":{"orient":"none","legendX":13,"legendY":189,"title":null,"symbolSize":56,"symbolStrokeWidth":1.5,"labelFontSize":8.5,"labelColor":"#222","rowPadding":-1.6,"labelOffset":12,"padding":0}},
"shape":{"field":"g","type":"nominal","scale":{"domain":["RBC","This work","North-West stream","stream D","stream C/D (overlap)","stream C","association 2","South-West Cloud","Eastern Cloud"],"range":["M-0.4,0A0.4,0.4 0 1,0 0.4,0A0.4,0.4 0 1,0 -0.4,0ZM0,-1.07V1.07M-0.4,-1.07H0.4M-0.4,1.07H0.4","square","square","square","square","square","square","square","square"]},
"legend":{"orient":"none","legendX":13,"legendY":189,"title":null,"symbolSize":56,"symbolStrokeWidth":1.5,"labelFontSize":8.5,"labelColor":"#222","rowPadding":-1.6,"labelOffset":12,"padding":0}}
}},
{"data":{"name":"labels"},"mark":{"type":"text","align":"left","baseline":"middle","fontSize":10.5,"color":"#222"},
"encoding":{
"x":{"field":"x","type":"quantitative","scale":{"domain":[100,-100],"nice":false,"zero":false},"axis":null},
"y":{"field":"v","type":"quantitative","scale":{"domain":[-600,400],"nice":false,"zero":false},"axis":null},
"text":{"field":"t"}
}}
]
}
]
}
]
}
